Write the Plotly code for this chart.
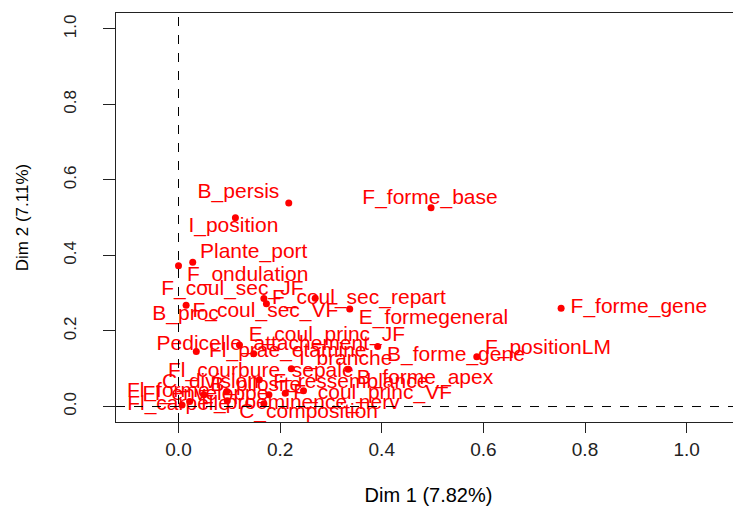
import plotly.graph_objects as go

names = ["B_persis", "F_forme_base", "I_position", "Plante_port", "F_ondulation",
         "F_coul_sec_JF", "F_coul_sec_repart", "F_coul_sec_VF", "B_proc", "E_formegeneral",
         "F_forme_gene", "Pedicelle_attachement", "E_coul_princ_JF", "Fl_prae_etamine", "B_forme_gene",
         "F_positionLM", "I_branche", "B_forme_apex", "Fl_courbure_sepale", "F_coul_princ_VF",
         "B_pilosite", "F_ressemblance", "C_division", "Fl_forme", "Fl_carpelle",
         "Fl_enveloppe", "C_composition", "F_proeminence_nerv"]
dim1 = [0.217, 0.497, 0.112, 0.028, 0.000,
        0.168, 0.269, 0.173, 0.015, 0.337,
        0.753, 0.120, 0.392, 0.035, 0.148,
        0.587, 0.222, 0.334, 0.159, 0.246,
        0.210, 0.178, 0.095, 0.050, 0.022,
        0.007, 0.168, 0.096]
dim2 = [0.539, 0.526, 0.500, 0.382, 0.373,
        0.286, 0.287, 0.272, 0.268, 0.258,
        0.260, 0.163, 0.159, 0.146, 0.140,
        0.132, 0.100, 0.099, 0.071, 0.042,
        0.035, 0.031, 0.040, 0.031, 0.013,
        0.004, 0.007, 0.015]
label_x = [0.118, 0.495, 0.108, 0.148, 0.136,
           0.106, 0.355, 0.171, 0.014, 0.502,
           0.906, 0.166, 0.292, 0.215, 0.546,
           0.727, 0.329, 0.485, 0.162, 0.382,
           0.152, 0.339, 0.063, -0.020, 0.000,
           0.053, 0.256, 0.240]
label_y = [0.566, 0.550, 0.476, 0.407, 0.346,
           0.309, 0.285, 0.251, 0.243, 0.232,
           0.261, 0.163, 0.187, 0.145, 0.134,
           0.153, 0.124, 0.073, 0.092, 0.034,
           0.055, 0.063, 0.063, 0.039, 0.005,
           0.031, -0.017, 0.007]
ticks = [0.0, 0.2, 0.4, 0.6, 0.8, 1.0]
tick_text = ["0.0", "0.2", "0.4", "0.6", "0.8", "1.0"]

FONT = "Liberation Sans, Arial, sans-serif"
RED = "#FF0000"

fig = go.Figure()
fig.add_trace(go.Scatter(x=dim1, y=dim2, mode="markers",
                         marker=dict(color=RED, size=7), hoverinfo="skip", showlegend=False))
fig.add_trace(go.Scatter(x=label_x, y=label_y, mode="text", text=names,
                         textposition="middle center",
                         textfont=dict(color=RED, size=21, family=FONT),
                         hoverinfo="skip", showlegend=False))

fig.add_hline(y=0, line=dict(color="black", width=1, dash="dash"))
fig.add_vline(x=0, line=dict(color="black", width=1, dash="dash"))

# the page body adds an 8px offset, margins compensate for it
fig.update_layout(
    width=741, height=506,
    margin=dict(l=108, r=8, t=5, b=92),
    paper_bgcolor="white", plot_bgcolor="white",
    font=dict(family=FONT, color="#222222", size=17),
    xaxis=dict(range=[-0.123, 1.107], tickvals=ticks, ticktext=tick_text, automargin=False,
               showgrid=False, zeroline=False, showline=True, linecolor="#222222",
               linewidth=1, mirror=True, ticks="outside", ticklen=10, tickcolor="#222222",
               tickfont=dict(size=19),
               title=dict(text="Dim 1 (7.82%)", standoff=29, font=dict(size=20, color="black"))),
    yaxis=dict(range=[-0.041, 1.042], tickvals=ticks, ticktext=tick_text, tickangle=-90,
               automargin=False, ticklabelstandoff=20,
               showgrid=False, zeroline=False, showline=True, linecolor="#222222",
               linewidth=1, mirror=False, ticks="outside", ticklen=12, tickcolor="#222222",
               tickfont=dict(size=17),
               title=dict(text="Dim 2 (7.11%)", standoff=28, font=dict(size=17, color="black"))),
)

fig.write_html("out.html")
